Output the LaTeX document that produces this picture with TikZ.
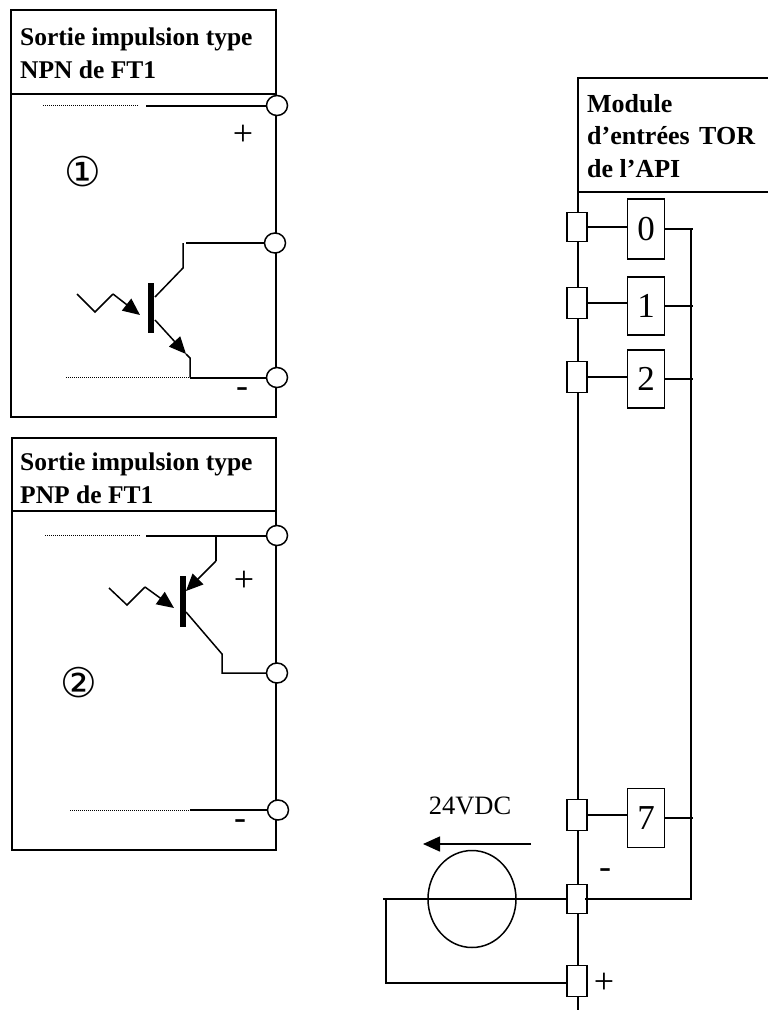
\documentclass[tikz,border=0pt]{standalone}
\usepackage{fontspec}
\setmainfont{Liberation Serif}
\newfontfamily\symfont{DejaVu Sans}
\usetikzlibrary{arrows.meta,shapes.geometric}
\tikzset{
	wire/.style={line width=1.5pt},
	bold wire/.style={line width=2pt},
	dots/.style={line width=1pt,line cap=butt,dash pattern=on 1pt off 1pt},
	bar/.style={line width=6pt},
	tip/.style={-{Triangle[length=17pt,width=15pt]}},
	titletext/.style={anchor=west,align=left,inner sep=0pt,font=\fontsize{25.5}{33}\selectfont\bfseries},
	plug/.style={ellipse,draw,fill=white,line width=1.5pt,minimum width=21pt,minimum height=20pt,inner sep=0pt},
	pin/.style={rectangle,draw,fill=white,line width=1.5pt,minimum width=20pt,minimum height=31pt,inner sep=0pt},
	slot/.style={rectangle,draw,line width=1.5pt,minimum width=37pt,minimum height=58pt,inner sep=0pt,font=\fontsize{35}{36}\selectfont},
	sign/.style={inner sep=0pt,font=\fontsize{36}{36}\selectfont},
	ringed/.style={inner sep=0pt,font=\symfont\fontsize{41}{41}\selectfont},
}
\begin{document}
\begin{tikzpicture}[x=1pt,y=-1pt]
	\useasboundingbox (0,0) rectangle (768,1010);
	% NPN
	\coordinate (atl) at (11,10);
	\coordinate (atr) at (276,94);
	\coordinate (abr) at (276,417);
	\draw[line width=1.6pt] (atl) rectangle (atr);
	\draw[wire] (atl|-atr) |- (abr) -- (atr);
	\node[titletext] (npn) at (20,53) {Sortie impulsion type\\NPN de FT1};
	\node[plug] (a1) at (277,105.5) {};
	\node[plug] (a2) at (275,243) {};
	\node[plug] (a3) at (277,377.5) {};
	\node[sign] (aplus) at (243,135) {+};
	\node[sign] (aminus) at (242,393) {-};
	\node[ringed] (aone) at (83,172) {①};
	\coordinate (ad1) at (43,105.5);
	\coordinate (ad2) at (138,105.5);
	\coordinate (as1) at (146,105.5);
	\coordinate (ac0) at (186,243);
	\coordinate (ac1) at (183,243);
	\coordinate (ac2) at (183,268);
	\coordinate (ab1) at (155,297);
	\coordinate (ab2) at (155,320);
	\coordinate (am) at (186,354);
	\coordinate (ae1) at (190,358);
	\coordinate (ae2) at (190,377.5);
	\coordinate (ad3) at (66,377.5);
	\draw[dots] (ad1) -- (ad2);
	\draw[bold wire] (as1) -- (a1);
	\draw[wire] (ac0) -- (a2);
	\draw[wire] (ac1) -- (ac2) -- (ab1);
	\draw[bar] (151,283) -- (151,333);
	\draw[wire,tip] (ab2) -- (am);
	\draw[wire] (am) -- (ae1) -- (ae2);
	\draw[bold wire] (ae2) -- (a3);
	\draw[dots] (ad3) -- (ae2);
	\draw[wire] (77,294) -- (95,312) -- (113,294);
	\draw[wire,tip] (113,294) -- (140,315);
	% PNP
	\coordinate (btl) at (12,438);
	\coordinate (btr) at (276,511);
	\coordinate (bbr) at (276,850);
	\draw[line width=2.2pt] (btl) rectangle (btr);
	\draw[wire] (btl|-btr) |- (bbr) -- (btr);
	\node[titletext] (pnp) at (20,478) {Sortie impulsion type\\PNP de FT1};
	\node[plug] (b1) at (277,535.5) {};
	\node[plug] (b2) at (277,673) {};
	\node[plug] (b3) at (278,810) {};
	\node[sign] (bplus) at (244,581) {+};
	\node[sign] (bminus) at (240,825) {-};
	\node[ringed] (btwo) at (79,683) {②};
	\coordinate (bd1) at (45,535.5);
	\coordinate (bd2) at (140,535.5);
	\coordinate (bs1) at (146,535.5);
	\coordinate (be1) at (216,535.5);
	\coordinate (be2) at (216,561);
	\coordinate (bt) at (186,591);
	\coordinate (bc1) at (186,612);
	\coordinate (bc2) at (222,654);
	\coordinate (bc3) at (222,673);
	\coordinate (bd3) at (70,810);
	\coordinate (bd4) at (190,810);
	\draw[dots] (bd1) -- (bd2);
	\draw[bold wire] (bs1) -- (b1);
	\draw[wire] (be1) -- (be2);
	\draw[wire,tip] (be2) -- (bt);
	\draw[bar] (183,576) -- (183,627);
	\draw[wire] (bc1) -- (bc2) -- (bc3) -- (b2);
	\draw[dots] (bd3) -- (bd4);
	\draw[bold wire] (bd4) -- (b3);
	\draw[wire] (109,588) -- (127,605) -- (145,587);
	\draw[wire,tip] (145,587) -- (174,608);
	% module
	\coordinate (mtl) at (578,78);
	\coordinate (mtr) at (768,78);
	\coordinate (mbl) at (578,192);
	\coordinate (mbr) at (768,192);
	\coordinate (mend) at (578,1010);
	\coordinate (sl) at (383,899);
	\coordinate (sc) at (386,899);
	\coordinate (sb) at (386,983);
	\coordinate (bus) at (691,899);
	\coordinate (busend) at (585,899);
	\draw[wire] (mtr) -- (mtl) -- (mend);
	\draw[wire] (mbl) -- (mbr);
	\node[titletext,font=\fontsize{26}{32.5}\selectfont\bfseries] (mod) at (587,136) {Module\\d’entrées\hspace{3pt} TOR\\de l’API};
	\node[pin,minimum height=29pt] (p0) at (577,227) {};
	\node[pin] (p1) at (577,303) {};
	\node[pin] (p2) at (577,377) {};
	\node[pin] (p7) at (577,815) {};
	\node[pin,minimum height=29pt] (pm) at (577,899) {};
	\node[pin] (pp) at (577,981) {};
	\node[slot,minimum height=60pt] (s0) at (646,229) {0};
	\node[slot] (s1) at (646,306) {1};
	\node[slot] (s2) at (646,379) {2};
	\node[slot,minimum height=59pt] (s7) at (646,818) {7};
	\foreach \i in {0,1,2,7} {
		\draw[wire] (p\i) -- (p\i-|s\i.west);
		\draw[wire] (s\i.east) -- +(28,0);
	}
	\draw[wire] (s0.east-|bus) -- (bus) -- (busend);
	\node[ellipse,draw,line width=1.5pt,minimum width=88pt,minimum height=97pt,inner sep=0pt] (src) at (472,899) {};
	\draw[wire] (sl) -- (pm.west);
	\draw[wire] (sc) -- (sb) -- (sb-|pp.west);
	\node[inner sep=0pt,font=\fontsize{26.5}{28}\selectfont] (volt) at (470,806) {24VDC};
	\coordinate (ar1) at (531,844);
	\coordinate (ar2) at (423,844);
	\draw[wire,tip] (ar1) -- (ar2);
	\node[sign] (pmsign) at (605,874) {-};
	\node[sign] (ppsign) at (604,983) {+};
\end{tikzpicture}
\end{document}
